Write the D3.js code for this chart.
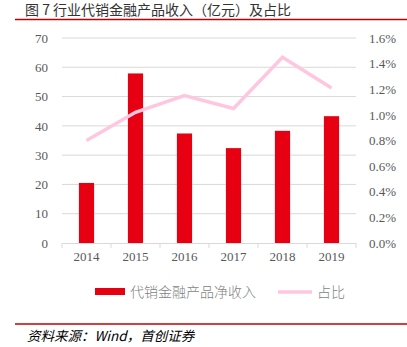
<!DOCTYPE html>
<html><head><meta charset="utf-8">
<script src="https://cdn.jsdelivr.net/npm/d3@7"></script>
<style>body{margin:0;background:#fff}svg{display:block}</style>
</head><body>
<svg id="c" width="407" height="347"></svg>
<script>
const categories = ["2014","2015","2016","2017","2018","2019"];
const revenue = [20.5, 57.9, 37.4, 32.4, 38.3, 43.3];
const share = [0.80, 1.02, 1.15, 1.05, 1.45, 1.21];
const leftTicks = [0,10,20,30,40,50,60,70];
const rightTicks = [0,0.2,0.4,0.6,0.8,1.0,1.2,1.4,1.6];
const titleText = "图 7 行业代销金融产品收入（亿元）及占比";
const legendLabels = ["代销金融产品净收入","占比"];
const sourceText = "资料来源：Wind，首创证券";

(function(){
const svg = d3.select("#c");
const pL = 62, pR = 356, pT = 38, pB = 243;
const x = d3.scaleBand().domain(categories).range([pL, pR]).paddingInner(0.69).paddingOuter(0.345);
const xc = d3.scaleBand().domain(categories).range([pL, pR]);
const yL = d3.scaleLinear().domain([0,70]).range([pB, pT]);
const yR = d3.scaleLinear().domain([0,1.6]).range([pB, pT]);
const serif = "'Liberation Serif','Times New Roman',serif";
const cjk = "'Noto Sans CJK SC',sans-serif";

// title
svg.append("text").attr("x",25).attr("y",14.5).attr("font-family",cjk).attr("font-size",14)
  .attr("fill","#333").text(titleText);
svg.append("line").attr("x1",15).attr("x2",407).attr("y1",19.5).attr("y2",19.5).attr("stroke","#c00000").attr("stroke-width",1.5);

// grid
svg.append("g").selectAll("line").data(leftTicks.slice(1)).join("line")
  .attr("x1",pL).attr("x2",pR).attr("y1",d=>yL(d)).attr("y2",d=>yL(d))
  .attr("stroke","#d9d9d9").attr("stroke-width",1);

// left axis
const gL = svg.append("g").attr("transform",`translate(${pL-12},0)`)
  .call(d3.axisLeft(yL).tickValues(leftTicks).tickSize(0).tickPadding(2));
gL.select(".domain").remove();
gL.selectAll("text").attr("font-family",serif).attr("font-size",13).attr("fill","#595959");

// right axis
const gR = svg.append("g").attr("transform",`translate(${pR+11},0)`)
  .call(d3.axisRight(yR).tickValues(rightTicks).tickSize(0).tickPadding(2).tickFormat(d=>d.toFixed(1)+"%"));
gR.select(".domain").remove();
gR.selectAll("text").attr("font-family",serif).attr("font-size",13).attr("fill","#595959");

// bars
svg.append("g").selectAll("rect").data(categories).join("rect")
  .attr("x",d=>x(d)).attr("width",x.bandwidth())
  .attr("y",(d,i)=>yL(revenue[i])).attr("height",(d,i)=>pB-yL(revenue[i]))
  .attr("fill","#e60012");

// x axis
const gX = svg.append("g").attr("transform",`translate(0,${pB})`)
  .call(d3.axisBottom(xc).tickSize(0).tickPadding(9));
gX.select(".domain").attr("stroke","#d9d9d9");
gX.selectAll("text").attr("font-family",serif).attr("font-size",13).attr("fill","#595959");
svg.append("g").selectAll("line").data(d3.range(categories.length+1)).join("line")
  .attr("x1",i=>pL+i*xc.step()).attr("x2",i=>pL+i*xc.step())
  .attr("y1",pB).attr("y2",pB+5).attr("stroke","#d9d9d9");

// line
const line = d3.line().x((d,i)=>xc(categories[i])+xc.bandwidth()/2).y(d=>yR(d));
svg.append("path").datum(share).attr("d",line).attr("fill","none")
  .attr("stroke","#ffc7df").attr("stroke-width",3.5).attr("stroke-linejoin","miter");

// legend
svg.append("rect").attr("x",95).attr("y",288).attr("width",30).attr("height",7).attr("fill","#e60012");
svg.append("text").attr("x",130).attr("y",297).attr("font-family",cjk).attr("font-size",14)
  .attr("font-weight",300).attr("fill","#7f7f7f").text(legendLabels[0]);
svg.append("line").attr("x1",278).attr("x2",312).attr("y1",292).attr("y2",292)
  .attr("stroke","#ffc7df").attr("stroke-width",3.5);
svg.append("text").attr("x",317).attr("y",297).attr("font-family",cjk).attr("font-size",14)
  .attr("font-weight",300).attr("fill","#7f7f7f").text(legendLabels[1]);

// source
svg.append("line").attr("x1",15).attr("x2",407).attr("y1",324).attr("y2",324).attr("stroke","#c00000").attr("stroke-width",1.5);
svg.append("text").attr("x",27).attr("y",341).attr("font-family",cjk).attr("font-size",13.5)
  .attr("font-style","italic").attr("fill","#000").text(sourceText);
})();
</script>
</body></html>
